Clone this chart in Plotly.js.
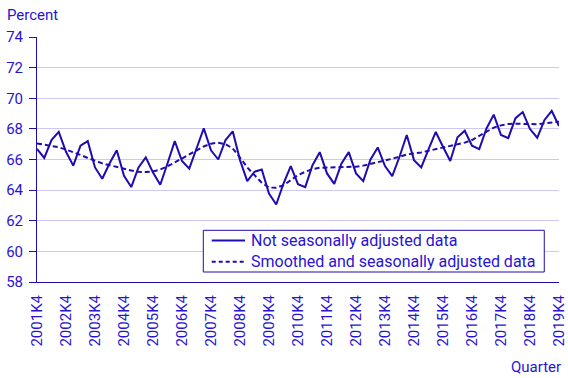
<!DOCTYPE html>
<html>
<head>
<meta charset="utf-8">
<script src="https://cdn.plot.ly/plotly-3.0.1.min.js"></script>
<style>html,body{margin:0;padding:0;background:#fff;}#chart{width:568px;height:378px;}</style>
</head>
<body>
<div id="chart"></div>
<script>
// Quarters 2001K4 .. 2019K4
const quarters = ["2001K4",
"2002K1","2002K2","2002K3","2002K4","2003K1","2003K2","2003K3","2003K4",
"2004K1","2004K2","2004K3","2004K4","2005K1","2005K2","2005K3","2005K4",
"2006K1","2006K2","2006K3","2006K4","2007K1","2007K2","2007K3","2007K4",
"2008K1","2008K2","2008K3","2008K4","2009K1","2009K2","2009K3","2009K4",
"2010K1","2010K2","2010K3","2010K4","2011K1","2011K2","2011K3","2011K4",
"2012K1","2012K2","2012K3","2012K4","2013K1","2013K2","2013K3","2013K4",
"2014K1","2014K2","2014K3","2014K4","2015K1","2015K2","2015K3","2015K4",
"2016K1","2016K2","2016K3","2016K4","2017K1","2017K2","2017K3","2017K4",
"2018K1","2018K2","2018K3","2018K4","2019K1","2019K2","2019K3","2019K4"];

const notSeasonallyAdjusted = [66.7,
66.1,67.27,67.8,66.5,65.6,66.9,67.2,65.48,
64.74,65.74,66.6,64.93,64.2,65.48,66.14,65.15,
64.35,65.74,67.2,65.9,65.4,66.72,68.03,66.6,
66.0,67.27,67.84,65.96,64.59,65.2,65.35,63.78,
63.06,64.43,65.57,64.39,64.2,65.63,66.48,65.09,
64.41,65.74,66.48,65.09,64.59,66.0,66.79,65.57,
64.91,66.18,67.6,65.96,65.48,66.66,67.8,66.83,
65.9,67.45,67.88,66.9,66.68,68.03,68.93,67.6,
67.4,68.7,69.1,67.99,67.42,68.58,69.17,68.19];

const smoothedSeasonallyAdjusted = [67.05,
66.95,66.87,66.8,66.65,66.5,66.3,66.1,65.9,
65.75,65.63,65.5,65.4,65.28,65.2,65.18,65.22,
65.35,65.55,65.8,66.1,66.35,66.6,66.85,67.03,
67.1,67.0,66.72,66.13,65.48,64.98,64.48,64.17,
64.15,64.32,64.65,64.98,65.2,65.37,65.46,65.48,
65.48,65.48,65.5,65.53,65.6,65.7,65.8,65.9,
66.05,66.18,66.33,66.4,66.46,66.57,66.68,66.79,
66.9,66.99,67.1,67.27,67.53,67.82,68.08,68.23,
68.32,68.34,68.32,68.3,68.3,68.36,68.43,68.47];

const seriesNames = ["Not seasonally adjusted data", "Smoothed and seasonally adjusted data"];
const yTicks = [58,60,62,64,66,68,70,72,74];

const labelTicks = quarters.filter((q,i) => i % 4 === 0);
const markIdx = quarters.map((q,i) => i).filter(i => i % 12 === 0);

const lineColor = "#1e0cb0";
const textColor = "#2813d4";
const gridColor = "#cdc9f2";
const font = {family: "Roboto, sans-serif", size: 15, color: textColor};
const legendFont = {family: "Roboto, sans-serif", size: 16, color: textColor};
const solidDash = "solid";
const smoothDash = "5px,3px";

const traces = [
  {x: quarters, y: notSeasonallyAdjusted, name: seriesNames[0], type: "scatter", mode: "lines",
   line: {color: lineColor, width: 2, dash: solidDash}, showlegend: false},
  {x: quarters, y: smoothedSeasonallyAdjusted, name: seriesNames[1], type: "scatter", mode: "lines",
   line: {color: lineColor, width: 2, dash: smoothDash}, showlegend: false}
];

// legend drawn as a framed key (paper coordinates)
const key = {x0: 0.3186, x1: 0.9718, y0: 0.0408, y1: 0.2110,
  sx0: 0.3347, sx1: 0.3985, tx: 0.4061, rows: [0.1690, 0.0830]};

const shapes = [
  {type: "rect", xref: "paper", yref: "paper", x0: key.x0, x1: key.x1, y0: key.y0, y1: key.y1,
   line: {color: lineColor, width: 1}, fillcolor: "#fff", layer: "above"}
].concat(seriesNames.map((n, k) => ({
   type: "line", xref: "paper", yref: "paper", x0: key.sx0, x1: key.sx1, y0: key.rows[k], y1: key.rows[k],
   line: {color: lineColor, width: 2, dash: k === 0 ? solidDash : "4px,3px"}, layer: "above"})));

const annotations = [
  {text: "Percent", xref: "paper", yref: "paper", x: -0.0613, y: 1.09,
   xanchor: "left", yanchor: "middle", showarrow: false, font: font},
  {text: "Quarter", xref: "paper", yref: "paper", x: 1.0077, y: -0.3457,
   xanchor: "right", yanchor: "middle", showarrow: false, font: font}
].concat(seriesNames.map((n, k) => ({
   text: n, xref: "paper", yref: "paper", x: key.tx, y: key.rows[k],
   xanchor: "left", yanchor: "middle", showarrow: false, font: legendFont})));

const layout = {
  width: 568, height: 378,
  margin: {l: 37, r: 9, t: 37, b: 96},
  paper_bgcolor: "#fff", plot_bgcolor: "#fff",
  font: font,
  showlegend: false,
  xaxis: {type: "category", range: [0, quarters.length - 1],
    tickmode: "array", tickvals: labelTicks, ticktext: labelTicks, tickangle: -90,
    ticks: "outside", ticklen: 6, tickcolor: "rgba(0,0,0,0)",
    showline: true, linecolor: lineColor, linewidth: 1,
    showgrid: false, zeroline: false, tickfont: font},
  xaxis2: {overlaying: "x", anchor: "y", side: "bottom", type: "linear",
    range: [0, quarters.length - 1], tickmode: "array", tickvals: markIdx,
    ticks: "outside", ticklen: 6, tickcolor: lineColor, tickwidth: 1,
    showticklabels: false, showline: false, showgrid: false, zeroline: false},
  yaxis: {range: [58, 74], tickmode: "array", tickvals: yTicks,
    ticks: "outside", ticklen: 7, tickcolor: lineColor, ticklabelstandoff: 3,
    showline: true, linecolor: lineColor, linewidth: 1,
    showgrid: true, gridcolor: gridColor, gridwidth: 1, zeroline: false, tickfont: font},
  shapes: shapes,
  annotations: annotations
};

Plotly.newPlot("chart", traces, layout, {displayModeBar: false, staticPlot: true});
</script>
</body>
</html>
